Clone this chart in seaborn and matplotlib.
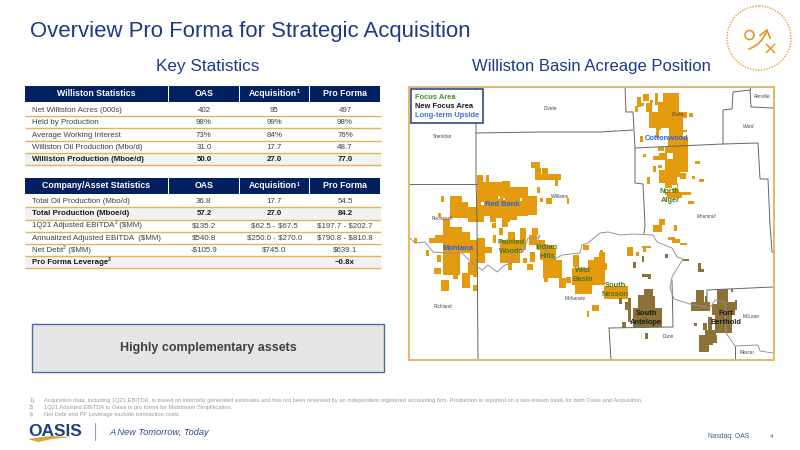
import numpy as np
import pandas as pd
import matplotlib
matplotlib.use("Agg")
import matplotlib.pyplot as plt
from matplotlib.colors import ListedColormap
from matplotlib.patches import Rectangle, Circle, FancyArrowPatch, Polygon
import seaborn as sns

# tabelas: (texto, sobrescrito, resto)
col_headers = [("OAS", "", ""), ("Acquisition", "1", ""), ("Pro Forma", "", "")]
williston_labels = [("Net Williston Acres (000s)", "", ""), ("Held by Production", "", ""),
                    ("Average Working Interest", "", ""), ("Williston Oil Production (Mbo/d)", "", ""),
                    ("Williston Production (Mboe/d)", "", "")]
williston_oas = ["402", "98%", "73%", "31.0", "50.0"]
williston_acq = ["95", "99%", "84%", "17.7", "27.0"]
williston_pf = ["497", "98%", "76%", "48.7", "77.0"]

company_labels = [("Total Oil Production (Mbo/d)", "", ""), ("Total Production (Mboe/d)", "", ""),
                  ("1Q21 Adjusted EBITDA", "2", " ($MM)"), ("Annualized Adjusted EBITDA  ($MM)", "", ""),
                  ("Net Debt", "3", " ($MM)"), ("Pro Forma Leverage", "3", "")]
company_oas = ["36.8", "57.2", "$135.2", "$540.8", "-$105.9", ""]
company_acq = ["17.7", "27.0", "$62.5 - $67.5", "$250.0 - $270.0", "$745.0", ""]
company_pf = ["54.5", "84.2", "$197.7 - $202.7", "$790.8 - $810.8", "$639.1", "~0.8x"]

footnotes = [
    "Acquisition data, including 1Q21 EBITDA, is based on internally generated estimates and has not been reviewed by an independent registered accounting firm. Production is reported on a two-stream basis for both Oasis and Acquisition.",
    "1Q21 Adjusted EBITDA to Oasis is pro forma for Midstream Simplification.",
    "Net Debt and PF Leverage exclude transaction costs",
]

# blocos de area no mapa (x0, x1, y0, y1)
orange_tracts = [
    (531,540,162,168),(535,541,168,180),(542,548,168,180),(537,561,174,180),(555,558,180,186),
    (477,483,175,193),(486,489,175,182),(477,502,182,222),(502,510,181,222),(510,528,187,220),
    (528,537,196,215),(537,540,187,193),(540,543,198,202),(546,552,198,204),(567,569,198,204),
    (450,462,196,218),(462,468,202,218),(468,477,207,222),(441,444,196,202),(438,441,213,217),
    (443,449,219,225),(443,450,220,227),(443,462,227,235),(435,443,235,243),(429,443,238,243),
    (443,470,232,253),(470,477,240,262),(477,485,238,263),(485,492,247,253),(443,460,253,275),
    (453,458,275,279),(468,478,262,275),(473,478,270,277),(462,470,273,288),(441,449,280,291),
    (434,441,268,274),(437,441,255,262),(426,429,250,256),(414,417,238,243),(473,478,285,291),
    (493,496,235,243),(500,520,240,263),(508,515,232,240),(520,526,228,250),(508,512,263,270),
    (499,503,228,235),(502,508,220,227),(492,496,223,228),(532,538,228,235),(529,537,235,245),
    (537,545,240,250),(530,535,252,262),(523,527,258,263),(527,533,264,270),(540,553,245,260),
    (543,562,260,278),(553,556,248,260),(544,548,276,282),(559,566,278,288),(566,571,277,283),
    (573,579,255,267),(572,602,268,285),(575,592,285,294),(594,605,257,285),(588,595,260,268),
    (583,589,245,250),(592,599,305,311),(587,589,311,317),(599,605,252,257),
    (600,603,250,277),(600,607,263,270),(627,633,247,256),(636,639,252,256),(642,651,246,248),
    (643,646,248,252),(653,662,225,232),(659,665,220,225),(674,677,225,231),(668,675,237,240),
    (672,680,239,243),(680,687,243,245),(604,628,286,299),
    (663,679,93,113),(655,658,93,105),(643,649,94,101),(637,641,97,107),(641,644,103,106),
    (635,638,106,112),(646,652,103,112),(650,653,100,103),(649,683,112,128),(658,663,102,112),
    (683,687,112,118),(689,693,113,117),(656,661,128,138),(669,683,128,137),(679,687,130,132),
    (640,643,136,142),(668,688,137,148),(658,664,147,151),(678,688,148,172),(665,680,147,177),
    (653,665,156,160),(659,667,153,160),(643,646,154,157),(653,656,166,172),(658,662,165,168),
    (659,665,170,183),(665,677,177,188),(680,686,173,179),(692,695,176,179),(699,704,179,182),
    (647,650,177,184),(695,700,161,164),(673,678,183,197),(665,691,192,195),(667,682,195,198),
    (688,694,201,204),(659,665,219,225),
]
brown_tracts = [
    (665,668,254,258),(633,636,262,268),(642,644,256,262),(642,651,274,277),(648,651,277,279),
    (644,653,289,317),(638,644,295,318),(633,662,308,327),(653,655,296,320),(628,631,298,322),
    (625,628,302,310),(619,622,298,304),(622,626,322,328),(645,648,333,339),
    (696,704,290,302),(691,710,302,311),(705,707,296,302),(717,728,289,302),(712,735,302,315),
    (715,732,315,333),(735,737,300,310),(731,733,289,292),(698,701,263,272),(701,704,269,272),
    (708,712,317,333),(703,707,323,330),(694,697,323,326),(705,716,330,335),(699,713,335,345),
    (699,709,345,352),(713,717,335,343),(683,689,259,261),
]
# furos brancos dentro dos blocos
holes = [(667,673,153,159),(659,669,130,137),(710,717,302,304),(672,677,185,188),
         (498,500,196,199),(503,505,198,200),(520,522,198,201),(481,484,202,205),
         (517,528,216,220),(484,490,216,222),(496,502,218,222)]

county_lines = {
    "a": [(476,87),(476,180),(477,220),(478,360)],
    "b": [(476,133),(540,132),(600,132),(633,130)],
    "c": [(409,184),(477,184)],
    "d": [(625,87),(626,112),(633,112),(635,148),(635,183),(643,184),(645,225),(644,234)],
    "e": [(635,148),(723,144),(758,143),(760,179),(768,179),(770,225),(772,252),(774,252)],
    "f": [(723,144),(723,110),(732,109),(733,92),(750,90),(751,107),(773,108)],
    "g": [(750,87),(750,90)],
    "h": [(609,328),(673,327),(672,280)],
    "i": [(609,328),(611,360)],
    "j": [(707,302),(707,290),(773,287)],
    "k": [(735,346),(735,360)],
}
river = [(410,238),(415,243),(425,242),(433,252),(448,253),(462,253),(472,263),(482,270),(488,265),
         (497,272),(505,265),(512,263),(512,253),(520,248),(523,252),(528,238),(537,238),(540,235),
         (538,240),(545,250),(553,260),(562,255),(580,253),(582,245),(588,243),(600,233),(608,232),
         (620,235),(633,234),(653,235),(657,242),(672,248),(677,257),(683,259),(672,277),(670,288),
         (674,299),(690,304),(710,308),(715,300),(725,302),(726,333),(735,346),(758,345),(760,351),
         (773,353)]

county_names = [("Divide",550,109,False),("Sheridan",442,136,False),("Williams",560,197,False),
                ("Roosevelt",442,218,False),("Richland",443,306,False),("McKenzie",575,299,False),
                ("Burke",678,115,True),("Renville",762,97,True),("Ward",748,127,True),
                ("Mountrail",707,217,True),("Dunn",668,337,False),("McLean",751,316,False),
                ("Mercer",747,352,False)]

blue_areas = [("Red Bank",502,204),("Montana",458,248),("Cottonwood",667,139)]
green_areas = [("North\nAlger",670,196),("Painted\nWoods",511,247),("Indian\nHills",547,252),
               ("Wild\nBasin",583,275),("South\nNesson",615,290)]
black_areas = [("South\nAntelope",646,318),("Fort\nBerthold",726,318)]

NAVY = "#002060"
GOLD = "#E2B25C"
TITLE = "#1B3A8C"
ORANGE = "#E39A0C"
BROWN = "#8C7236"
FONT = "Liberation Sans"

sns.set_theme(style="white")
plt.rcParams["font.family"] = [FONT, "DejaVu Sans"]

fig = plt.figure(figsize=(8, 4.5), dpi=100)
ax = fig.add_axes([0, 0, 1, 1])

# a matriz tem um valor por pixel, entao os eixos do heatmap ficam em pixels
grid = np.zeros((450, 800))
for x0, x1, y0, y1 in orange_tracts:
    grid[y0:y1, x0:x1] = 1
for x0, x1, y0, y1 in brown_tracts:
    grid[y0:y1, x0:x1] = 2
for x0, x1, y0, y1 in holes:
    grid[y0:y1, x0:x1] = 0
sns.heatmap(grid, mask=grid == 0, cmap=ListedColormap([ORANGE, BROWN]), vmin=1, vmax=2, cbar=False,
            xticklabels=False, yticklabels=False, ax=ax, rasterized=True)

# limites dos condados e rio
rows = []
for name, pts in county_lines.items():
    for x, y in pts:
        rows.append({"x": x, "y": y, "line": name})
lines_df = pd.DataFrame(rows)
sns.lineplot(data=lines_df, x="x", y="y", units="line", estimator=None, sort=False,
             color="#666666", linewidth=0.7, ax=ax, legend=False)
river_df = pd.DataFrame(river, columns=["x", "y"])
sns.lineplot(data=river_df, x="x", y="y", estimator=None, sort=False, color="#959595",
             linewidth=0.7, ax=ax, legend=False)
ax.set_xlim(0, 800)
ax.set_ylim(450, 0)
ax.axis("off")

ax.add_patch(Rectangle((409, 87), 365, 273, fill=False, ec=GOLD, lw=1.3, zorder=4))

# legenda do mapa
ax.add_patch(Rectangle((411, 89), 72, 34, fc="white", ec="#1F3A7A", lw=1.1, zorder=5))
ax.text(415, 97.5, "Focus Area", color="#4E8A2A", fontsize=5.4, weight="bold", va="center", zorder=6)
ax.text(415, 106.5, "New Focus Area", color="#1A1A1A", fontsize=5.4, weight="bold", va="center", zorder=6)
ax.text(415, 115.5, "Long-term Upside", color="#3D6FE0", fontsize=5.4, weight="bold", va="center", zorder=6)

for name, x, y, ital in county_names:
    ax.text(x, y, name, fontsize=3.4, color="#444444", ha="center", va="center",
            style="italic" if ital else "normal", zorder=5)
for areas, col in [(blue_areas, "#2F62D8"), (green_areas, "#4A7A1E"), (black_areas, "#1A1A1A")]:
    for name, x, y in areas:
        ax.text(x, y, name, fontsize=5.4, color=col, weight="bold", ha="center", va="center",
                linespacing=1.35, zorder=6)

# titulos
ax.text(30, 31, "Overview Pro Forma for Strategic Acquisition", color=TITLE, fontsize=15.9, va="center")
ax.text(208, 66.5, "Key Statistics", color=TITLE, fontsize=12.3, ha="center", va="center")
ax.text(591, 66.5, "Williston Basin Acreage Position", color=TITLE, fontsize=12, ha="center", va="center")

# colunas das tabelas
col_edges = [(25, 168), (169, 239), (240, 309), (310, 380)]
renderer = fig.canvas.get_renderer()


def sup_text(x, y, parts, fontsize, color, weight="normal", center=False):
    # texto com sobrescrito: cada pedaco comeca onde o anterior termina
    main, sup, rest = parts
    pieces = []
    cur = x
    for txt, fs, dy in [(main, fontsize, 0), (sup, fontsize * 0.62, -2.6), (rest, fontsize, 0)]:
        if not txt:
            continue
        t = ax.text(cur, y + dy, txt, fontsize=fs, color=color, weight=weight, va="baseline",
                    parse_math=False)
        cur += t.get_window_extent(renderer).width
        pieces.append(t)
    if center:
        shift = (cur - x) / 2
        for t in pieces:
            t.set_x(t.get_position()[0] - shift)


def draw_table(title, labels, oas, acq, pf, head_top, head_bot, centers, rules, bold_rows):
    for (x0, x1), parts in zip(col_edges, [(title, "", "")] + col_headers):
        ax.add_patch(Rectangle((x0, head_top), x1 - x0, head_bot - head_top, fc=NAVY, ec="none"))
        sup_text((x0 + x1) / 2, (head_top + head_bot) / 2 + 2.3, parts, 6.3, "white", "bold", center=True)
    for i, cy in enumerate(centers):
        bold = i in bold_rows
        if bold:
            top = rules[i - 1] if i > 0 else head_bot
            ax.add_patch(Rectangle((25, top), 356, rules[i] - top, fc="#F2F2F2", ec="none"))
        w = "bold" if bold else "normal"
        col = "#1A1A1A" if bold else "#404040"
        sup_text(32, cy + 2, labels[i], 5.7, col, w)
        for (x0, x1), vals in zip(col_edges[1:], [oas, acq, pf]):
            ax.text((x0 + x1) / 2, cy + 2, vals[i], fontsize=5.7, color=col, weight=w, ha="center",
                    va="baseline", parse_math=False)
    for r in rules:
        ax.plot([25, 381], [r, r], color=GOLD, lw=1.0, solid_capstyle="butt")


draw_table("Williston Statistics", williston_labels, williston_oas, williston_acq, williston_pf,
           85.5, 101.5, [109.5, 122, 135, 147, 159], [115.5, 128, 140.5, 153, 165], {4})
draw_table("Company/Asset Statistics", company_labels, company_oas, company_acq, company_pf,
           178, 194, [201, 213, 225, 238, 250, 262], [207, 219.5, 232, 243.7, 256, 268], {1, 5})

# caixa
ax.add_patch(Rectangle((32, 323.5), 352, 48.5, fc="#E7E6E6", ec="#4A6AA5", lw=1.0))
ax.text(208, 348, "Highly complementary assets", color="#404040", fontsize=9, weight="bold",
        ha="center", va="center")

# notas
for i, note in enumerate(footnotes):
    y = 400.5 + i * 7.2
    ax.text(29, y, f"{i + 1})", fontsize=4.18, color="#9A9A9A", va="center")
    ax.text(44, y, note, fontsize=4.18, color="#9A9A9A", va="center")

# rodape
ax.text(28, 431, "OASIS", color="#1F3F7F", fontsize=12.5, weight="bold", va="center")
ax.add_patch(Polygon([(28, 439), (50, 436), (72, 437), (52, 439), (38, 442)], fc="#D9A33A", ec="none"))
ax.plot([94.7, 94.7], [423, 440], color="#7FA3C7", lw=0.8)
ax.text(109, 432.5, "A New Tomorrow, Today", color="#2F4A8F", fontsize=6.7, style="italic", va="center")
ax.text(708, 437, "Nasdaq: OAS", color="#3A5A9A", fontsize=4.9, va="center")
ax.text(772, 437, "4", color="#3A5A9A", fontsize=4.2, va="center", ha="center")

# icone
ax.add_patch(Circle((759, 38), 32, fill=False, ec="#E0A030", lw=1.0, ls=(0, (1, 1))))
ax.add_patch(Circle((749.5, 35), 4.5, fill=False, ec="#E09A1A", lw=1.2))
ax.add_patch(FancyArrowPatch((746, 50), (768, 26), connectionstyle="arc3,rad=0.3",
                             arrowstyle="->,head_length=4,head_width=3",
                             color="#E09A1A", lw=1.2, mutation_scale=1.3))
ax.text(770, 50, "\u00d7", color="#E09A1A", fontsize=13, ha="center", va="center", family="DejaVu Sans")

plt.savefig("out.png", dpi=100)
